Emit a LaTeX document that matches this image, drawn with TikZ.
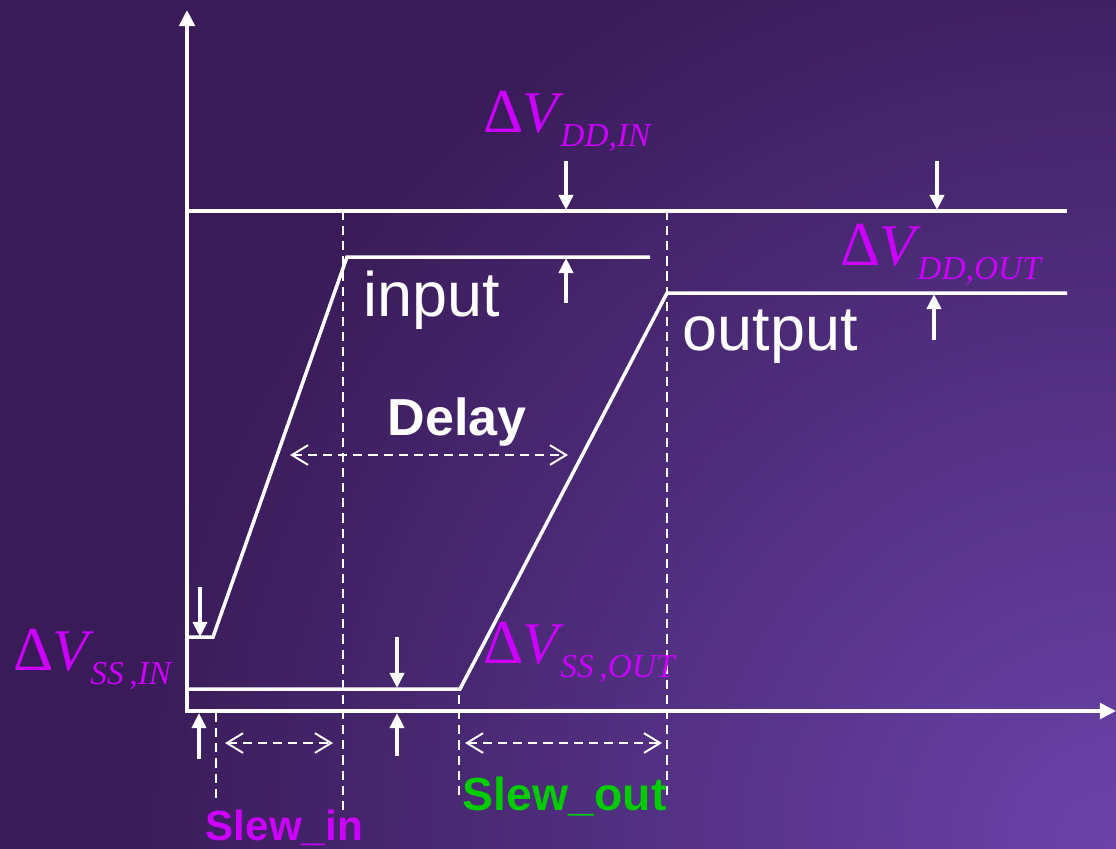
\documentclass[tikz,border=0pt]{standalone}
\usepackage{fontspec}
\setmainfont{Liberation Sans}
\newfontfamily\tms{Liberation Serif}
\usetikzlibrary{arrows.meta}
\definecolor{bgdark}{HTML}{391B57}
\definecolor{bglight}{HTML}{6A43AA}
\definecolor{dvmagenta}{HTML}{CC00FF}
\definecolor{slewgreen}{HTML}{00CC00}
\newcommand{\dvlab}[1]{{\tms\fontsize{16.8}{18}\selectfont\scalebox{1.06}{Δ}\kern-0.5pt\textit{V}\kern-1pt\raisebox{-4pt}{\fontsize{9.5}{10}\selectfont\itshape #1}}}
\tikzset{
  axisline/.style={white, line width=1.1pt, -{Triangle[length=4.6pt,width=4.4pt]}},
  wave/.style={white, line width=1pt, line join=miter},
  guide/.style={white, line width=0.55pt, dash pattern=on 2.6pt off 1.7pt},
  span/.style={guide, {Straight Barb[length=4.6pt,width=5.6pt]}-{Straight Barb[length=4.6pt,width=5.6pt]}},
  marker/.style={white, line width=1.1pt, -{Triangle[length=4.3pt,width=4pt]}},
  lbl/.style={text=white, anchor=base west, inner sep=0pt},
  dv/.style={text=dvmagenta, anchor=base west, inner sep=0pt}
}

\begin{document}
\begin{tikzpicture}[x=0.01cm, y=-0.01cm]
  \useasboundingbox (0,0) rectangle (1116,848);
  % background
  \begin{scope}
    \clip (-5,-5) rectangle (1121,853);
    \fill[bgdark] (-5,-5) rectangle (1121,853);
    \shade[inner color=bglight, outer color=bgdark] (1116,848) circle (1000);
  \end{scope}

  % axes
  \coordinate (O) at (187,711);
  \coordinate (ytop) at (187,10);
  \coordinate (xend) at (1116,711);
  \draw[axisline] (187,713) -- (ytop);
  \draw[axisline] (O) -- (xend);

  % supply rail, input and output
  \coordinate (ddl) at (187,211);
  \coordinate (ddr) at (1067,211);
  \draw[wave, line width=1.1pt] (ddl) -- (ddr);
  \coordinate (inlow) at (213,637);
  \coordinate (inhigh) at (347,257);
  \draw[wave] (187,637) -- (inlow) -- (inhigh) -- (650,257);
  \coordinate (outlow) at (460,689);
  \coordinate (outhigh) at (667,293);
  \draw[wave] (187,689) -- (outlow) -- (outhigh) -- (1067,293);

  % guides
  \draw[guide] (343,211) -- (343,812);
  \draw[guide] (667,211) -- (667,800);
  \draw[guide] (216,713) -- (216,800);
  \draw[guide] (459,695) -- (459,798);
  \draw[span] (225,743) -- (333,743);
  \draw[span] (465,743) -- (662,743);
  \draw[span] (290,455) -- (568,455);

  % offset markers
  \draw[marker] (200,587) -- (200,637);
  \draw[marker] (199,759) -- (199,713);
  \draw[marker] (397,637) -- (397,688);
  \draw[marker] (397,756) -- (397,713);
  \draw[marker] (566,161) -- (566,210);
  \draw[marker] (566,303) -- (566,258);
  \draw[marker] (937,161) -- (937,210);
  \draw[marker] (934,340) -- (934,294);

  % labels
  \node[lbl, font=\fontsize{17.9}{20}\selectfont] (inlab) at (363,316) {input};
  \node[lbl, font=\fontsize{17.9}{20}\selectfont] (outlab) at (682,350) {output};
  \node[lbl, font=\bfseries\fontsize{14.8}{16}\selectfont] (delaylab) at (387,435) {Delay};
  \node[lbl, text=dvmagenta, font=\bfseries\fontsize{12}{14}\selectfont] (slewin) at (205,840) {Slew\_in};
  \node[lbl, text=slewgreen, font=\bfseries\fontsize{13.2}{15}\selectfont] (slewout) at (462,810) {Slew\_out};
  \node[dv] (ddin) at (483,132) {\dvlab{DD,IN}};
  \node[dv] (ddout) at (840,265) {\dvlab{DD,OUT}};
  \node[dv] (ssin) at (13,670) {\dvlab{SS\,,IN}};
  \node[dv] (ssout) at (483,663) {\dvlab{SS\,,OUT}};
\end{tikzpicture}
\end{document}
